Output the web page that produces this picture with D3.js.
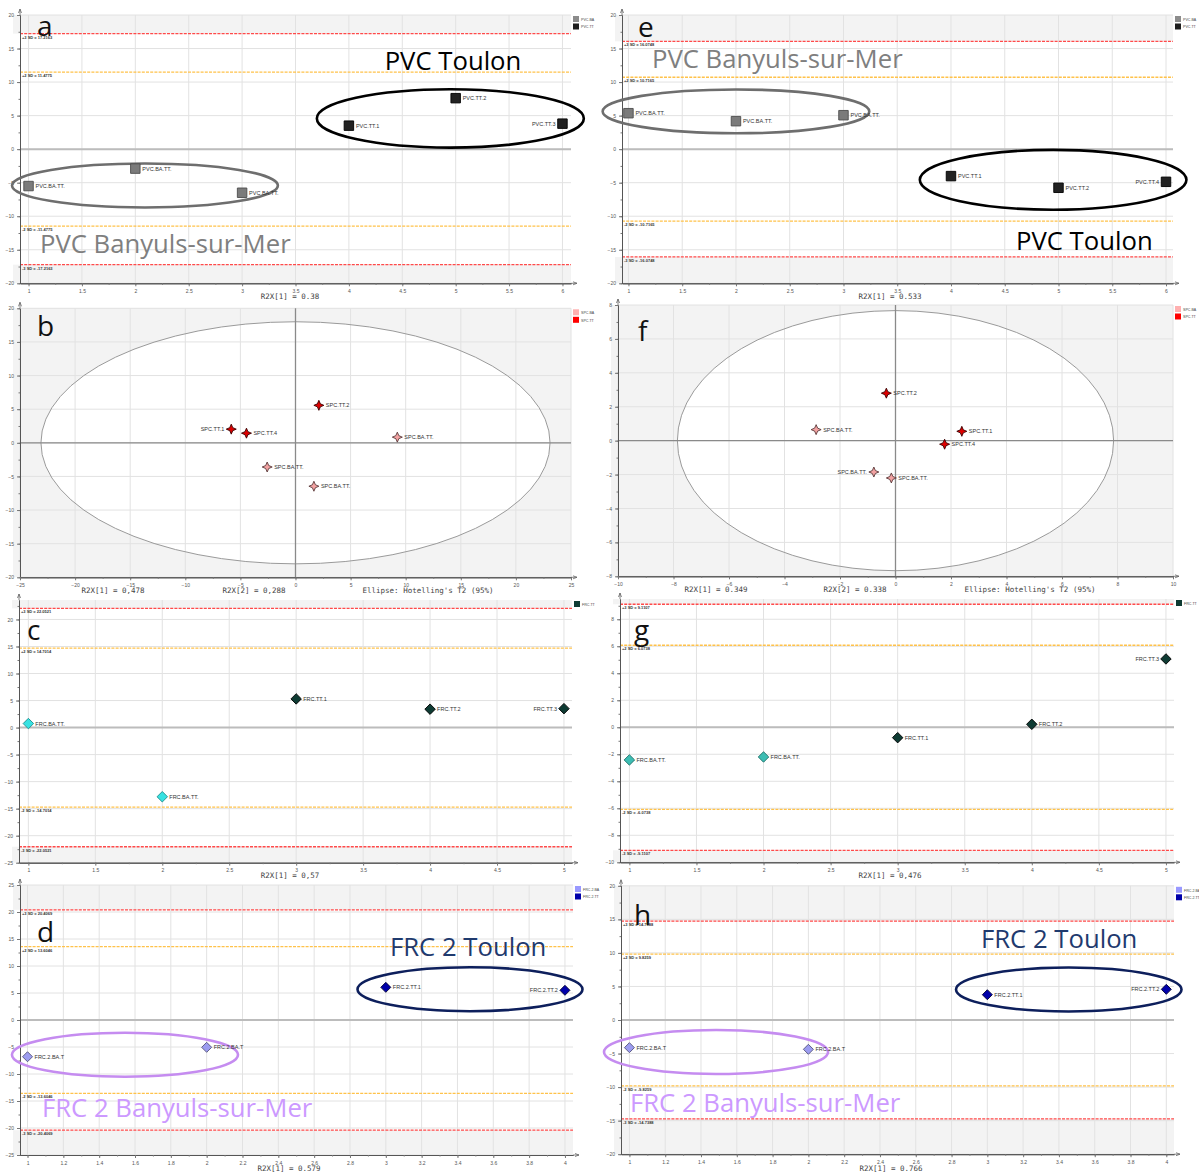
<!DOCTYPE html>
<html><head><meta charset="utf-8">
<script src="https://cdn.jsdelivr.net/npm/d3@7"></script>
<style>body{margin:0;background:#fff} svg{display:block}</style>
</head><body>
<svg id="fig" width="1199" height="1173"></svg>
<script>
// ================= DATA =================
// a — PVC, t[1] score per observation
const aObs = [1, 2, 3, 4, 5, 6];
const aT1 = [-5.5, -2.9, -6.5, 3.5, 7.6, 3.8];
const aNames = ["PVC.BA.TT.", "PVC.BA.TT.", "PVC.BA.TT.", "PVC.TT.1", "PVC.TT.2", "PVC.TT.3"];
const aClass = ["BA", "BA", "BA", "TT", "TT", "TT"];
const aLimits = [17.2163, 11.4775];            // 3 SD, 2 SD
const aEllipses = [[4.95, 4.58, 1.25, 4.35], [2.09, -5.42, 1.245, 3.27]]; // cx, cy, rx, ry (data units)
const aLegend = ["PVC.BA", "PVC.TT"];
const aNotes = ["PVC Toulon", "PVC Banyuls-sur-Mer"];
const aAxisText = ["R2X[1] = 0.38"];

// e — PVC, t[1]
const eObs = [1, 2, 3, 4, 5, 6];
const eT1 = [5.36, 4.17, 5.06, -4.02, -5.76, -4.87];
const eNames = ["PVC.BA.TT.", "PVC.BA.TT.", "PVC.BA.TT.", "PVC.TT.1", "PVC.TT.2", "PVC.TT.4"];
const eClass = ["BA", "BA", "BA", "TT", "TT", "TT"];
const eLimits = [16.0748, 10.7165];
const eEllipses = [[2.0, 5.63, 1.24, 3.27], [4.95, -4.57, 1.24, 4.46]];
const eLegend = ["PVC.BA", "PVC.TT"];
const eNotes = ["PVC Banyuls-sur-Mer", "PVC Toulon"];
const eAxisText = ["R2X[1] = 0.533"];

// b — SPC, t[1] vs t[2]
const bT1 = [-5.83, -4.45, 2.12, 9.24, -2.57, 1.67];
const bT2 = [2.03, 1.43, 5.57, 0.84, -3.6, -6.46];
const bNames = ["SPC.TT.1", "SPC.TT.4", "SPC.TT.2", "SPC.BA.TT.", "SPC.BA.TT.", "SPC.BA.TT."];
const bClass = ["TT", "TT", "TT", "BA", "BA", "BA"];
const bHotelling = [23.1, 18.0];
const bLegend = ["SPC.BA", "SPC.TT"];
const bAxisText = ["R2X[1] = 0,478", "R2X[2] = 0,288", "Ellipse: Hotelling's T2 (95%)"];

// f — SPC, t[1] vs t[2]
const fT1 = [-0.33, -2.86, 2.39, 1.77, -0.78, -0.15];
const fT2 = [2.8, 0.65, 0.55, -0.21, -1.85, -2.2];
const fNames = ["SPC.TT.2", "SPC.BA.TT.", "SPC.TT.1", "SPC.TT.4", "SPC.BA.TT.", "SPC.BA.TT."];
const fClass = ["TT", "BA", "TT", "TT", "BA", "BA"];
const fHotelling = [7.86, 7.67];
const fLegend = ["SPC.BA", "SPC.TT"];
const fAxisText = ["R2X[1] = 0.349", "R2X[2] = 0.338", "Ellipse: Hotelling's T2 (95%)"];

// c — FRC, t[1]
const cObs = [1, 2, 3, 4, 5];
const cT1 = [0.74, -12.8, 5.3, 3.4, 3.5];
const cNames = ["FRC.BA.TT.", "FRC.BA.TT.", "FRC.TT.1", "FRC.TT.2", "FRC.TT.3"];
const cClass = ["BA", "BA", "TT", "TT", "TT"];
const cLimits = [22.0521, 14.7014];
const cLegend = ["FRC.TT"];
const cAxisText = ["R2X[1] = 0,57"];

// g — FRC, t[1]
const gObs = [1, 2, 3, 4, 5];
const gT1 = [-2.42, -2.2, -0.77, 0.22, 5.06];
const gNames = ["FRC.BA.TT.", "FRC.BA.TT.", "FRC.TT.1", "FRC.TT.2", "FRC.TT.3"];
const gClass = ["BA", "BA", "TT", "TT", "TT"];
const gLimits = [9.1107, 6.0738];
const gLegend = ["FRC.TT"];
const gAxisText = ["R2X[1] = 0,476"];

// d — FRC 2, t[1]
const dObs = [1, 2, 3, 4];
const dT1 = [-6.8, -5.06, 6.05, 5.5];
const dNames = ["FRC.2.BA.T", "FRC.2.BA.T", "FRC.2.TT.1", "FRC.2.TT.2"];
const dClass = ["BA", "BA", "TT", "TT"];
const dLimits = [20.4069, 13.6046];
const dEllipses = [[3.47, 5.69, 0.628, 4.07], [1.544, -6.43, 0.631, 4.07]];
const dLegend = ["FRC.2.BA", "FRC.2.TT"];
const dNotes = ["FRC 2 Toulon", "FRC 2 Banyuls-sur-Mer"];
const dAxisText = ["R2X[1] = 0.579"];

// h — FRC 2, t[1]
const hObs = [1, 2, 3, 4];
const hT1 = [-4.12, -4.37, 3.77, 4.57];
const hNames = ["FRC.2.BA.T", "FRC.2.BA.T", "FRC.2.TT.1", "FRC.2.TT.2"];
const hClass = ["BA", "BA", "TT", "TT"];
const hLimits = [14.7388, 9.8259];
const hEllipses = [[3.455, 4.55, 0.63, 3.28], [1.484, -4.77, 0.626, 3.28]];
const hLegend = ["FRC.2.BA", "FRC.2.TT"];
const hNotes = ["FRC 2 Toulon", "FRC 2 Banyuls-sur-Mer"];
const hAxisText = ["R2X[1] = 0.766"];

// ================= SYMBOLS / STYLES =================
const square = {draw(c, s){const r = Math.sqrt(s)/2; c.rect(-r, -r, 2*r, 2*r);}};
const diamond = {draw(c, s){const r = Math.sqrt(s)/2; c.moveTo(0,-r); c.lineTo(r,0); c.lineTo(0,r); c.lineTo(-r,0); c.closePath();}};
const star4 = {draw(c, s){const r = Math.sqrt(s)/2, k = r*0.3;
  c.moveTo(0,-r); c.lineTo(k,-k); c.lineTo(r,0); c.lineTo(k,k); c.lineTo(0,r); c.lineTo(-k,k); c.lineTo(-r,0); c.lineTo(-k,-k); c.closePath();}};

const PVC = {sym: square, size: 90, BA: ["#7b7b7b", "#4d4d4d"], TT: ["#222222", "#000000"], legend: ["#8c8c8c", "#1e1e1e"]};
const SPC = {sym: star4, size: 100, BA: ["#f3a2a2", "#5a3a3a"], TT: ["#dd0000", "#3a0000"], legend: ["#ffb0b0", "#ff0000"]};
const FRC = {sym: diamond, size: 110, BA: ["#37e2e2", "#1f8c8c"], TT: ["#0e3b33", "#000000"], legend: ["#0e3b33"]};
const FRCg = {sym: diamond, size: 110, BA: ["#3dbdb3", "#1d6f68"], TT: ["#0e3b33", "#000000"], legend: ["#0e3b33"]};
const FRC2 = {sym: diamond, size: 100, BA: ["#9c9cf0", "#55557a"], TT: ["#0000aa", "#000033"], legend: ["#9999ff", "#0000aa"]};

const MONO = "'DejaVu Sans Mono', monospace";
const SANS = "'Liberation Sans', Arial, sans-serif";
const BIG = "'Open Sans', sans-serif";

// ================= LAYOUT =================
const panels = [
  {letter: "a", lp: [37, 36], x0: 20, x1: 571, y0: 15, y1: 283.3, xDom: [0.92, 6.08], yDom: [-20, 20], xStep: 0.5, xMinor: 0.25, yStep: 5,
   xs: aObs, ys: aT1, names: aNames, cls: aClass, limits: aLimits, style: PVC, legend: aLegend,
   ell: aEllipses, ellStyle: [["#000000", 2.6], ["#6e6e6e", 2.6]],
   notes: aNotes, noteStyle: [[453, 70, "middle", "#000000"], [40, 253, "start", "#7f7f7f"]],
   axisText: aAxisText, axisPos: [[290, 299]]},
  {letter: "e", lp: [638, 37], x0: 622, x1: 1173, y0: 15, y1: 283.3, xDom: [0.94, 6.065], yDom: [-20, 20], xStep: 0.5, xMinor: 0.25, yStep: 5,
   xs: eObs, ys: eT1, names: eNames, cls: eClass, limits: eLimits, style: PVC, legend: eLegend,
   ell: eEllipses, ellStyle: [["#6e6e6e", 2.6], ["#000000", 2.6]],
   notes: eNotes, noteStyle: [[652, 68, "start", "#7f7f7f"], [1016, 250, "start", "#000000"]],
   axisText: eAxisText, axisPos: [[890, 299]]},
  {letter: "b", lp: [37, 336], x0: 20, x1: 571, y0: 308.3, y1: 577.3, xDom: [-25, 25], yDom: [-20, 20], xStep: 5, xMinor: 2.5, yStep: 5,
   xs: bT1, ys: bT2, names: bNames, cls: bClass, hot: bHotelling, style: SPC, legend: bLegend, leftLabel: [0],
   axisText: bAxisText, axisPos: [[113, 592.5], [254, 592.5], [428, 592.5]]},
  {letter: "f", lp: [638, 341], x0: 618, x1: 1173, y0: 305, y1: 576.3, xDom: [-10, 10], yDom: [-8, 8], xStep: 2, xMinor: 1, yStep: 2,
   xs: fT1, ys: fT2, names: fNames, cls: fClass, hot: fHotelling, style: SPC, legend: fLegend, leftLabel: [4],
   axisText: fAxisText, axisPos: [[716, 592], [855, 592], [1030, 592]]},
  {letter: "c", lp: [27, 640], x0: 19, x1: 572, y0: 600, y1: 862.7, xDom: [0.93, 5.06], yDom: [-25, 23.6], xStep: 0.5, xMinor: 0.25, yStep: 5,
   xs: cObs, ys: cT1, names: cNames, cls: cClass, limits: cLimits, style: FRC, legend: cLegend,
   axisText: cAxisText, axisPos: [[290, 878]]},
  {letter: "g", lp: [634, 640], x0: 620, x1: 1174, y0: 599, y1: 862.3, xDom: [0.93, 5.06], yDom: [-10, 9.5], xStep: 0.5, xMinor: 0.25, yStep: 2,
   xs: gObs, ys: gT1, names: gNames, cls: gClass, limits: gLimits, style: FRCg, legend: gLegend,
   axisText: gAxisText, axisPos: [[890, 878]]},
  {letter: "d", lp: [37, 942], x0: 20, x1: 573, y0: 885, y1: 1155, xDom: [0.958, 4.045], yDom: [-25, 25], xStep: 0.2, xMinor: 0.1, yStep: 5,
   xs: dObs, ys: dT1, names: dNames, cls: dClass, limits: dLimits, style: FRC2, legend: dLegend,
   ell: dEllipses, ellStyle: [["#0d1f5c", 2.6], ["#c58cf0", 2.6]],
   notes: dNotes, noteStyle: [[390, 956, "start", "#1f3a6e"], [42, 1117, "start", "#cc99ff"]],
   axisText: dAxisText, axisPos: [[289, 1171]]},
  {letter: "h", lp: [634, 925], x0: 621, x1: 1174, y0: 885.8, y1: 1154.2, xDom: [0.953, 4.043], yDom: [-20, 20], xStep: 0.2, xMinor: 0.1, yStep: 5,
   xs: hObs, ys: hT1, names: hNames, cls: hClass, limits: hLimits, style: FRC2, legend: hLegend,
   ell: hEllipses, ellStyle: [["#0d1f5c", 2.6], ["#c58cf0", 2.6]],
   notes: hNotes, noteStyle: [[981, 948, "start", "#1f3a6e"], [630, 1112, "start", "#cc99ff"]],
   axisText: hAxisText, axisPos: [[891, 1171]]}
];

// ================= DRAW =================
const svg = d3.select("#fig");

function tickVals(dom, step) {
  const out = [];
  const start = Math.ceil(dom[0] / step - 1e-9);
  for (let i = start; i * step <= dom[1] + 1e-9; i++) out.push(+(i * step).toFixed(6));
  return out;
}

function styleAxis(sel) {
  sel.select(".domain").attr("stroke", "#555").attr("stroke-width", 1);
  sel.selectAll(".tick line").attr("stroke", "#777");
  sel.selectAll(".tick text").attr("fill", "#555").attr("font-size", 5).attr("font-family", SANS);
}

function drawPanel(P) {
  const g = svg.append("g");
  const x = d3.scaleLinear().domain(P.xDom).range([P.x0, P.x1]);
  const y = d3.scaleLinear().domain(P.yDom).range([P.y1, P.y0]);
  const W = P.x1 - P.x0, H = P.y1 - P.y0;

  // background
  g.append("rect").attr("x", P.x0 - 7).attr("y", P.y0).attr("width", W + 7).attr("height", H).attr("fill", "#f3f3f3");
  if (P.limits) {
    g.append("rect").attr("x", P.x0 - 7).attr("width", W + 7)
      .attr("y", y(P.limits[0])).attr("height", y(-P.limits[0]) - y(P.limits[0])).attr("fill", "#ffffff");
  } else {
    g.append("ellipse").attr("cx", x(0)).attr("cy", y(0))
      .attr("rx", x(P.hot[0]) - x(0)).attr("ry", y(0) - y(P.hot[1])).attr("fill", "#ffffff");
  }

  const xt = tickVals(P.xDom, P.xStep), yt = tickVals(P.yDom, P.yStep);
  const xm = tickVals(P.xDom, P.xMinor), ym = tickVals(P.yDom, P.yStep / 2);

  // grid
  g.append("g").selectAll("line").data(xt).join("line")
    .attr("x1", d => x(d)).attr("x2", d => x(d)).attr("y1", P.y0).attr("y2", P.y1)
    .attr("stroke", "#e2e2e2").attr("stroke-width", 1);
  g.append("g").selectAll("line").data(yt).join("line")
    .attr("x1", P.x0).attr("x2", P.x1).attr("y1", d => y(d)).attr("y2", d => y(d))
    .attr("stroke", "#e2e2e2").attr("stroke-width", 1);

  if (P.hot) {
    g.append("ellipse").attr("cx", x(0)).attr("cy", y(0))
      .attr("rx", x(P.hot[0]) - x(0)).attr("ry", y(0) - y(P.hot[1]))
      .attr("fill", "none").attr("stroke", "#9a9a9a").attr("stroke-width", 1);
    g.append("line").attr("x1", P.x0).attr("x2", P.x1).attr("y1", y(0)).attr("y2", y(0)).attr("stroke", "#8a8a8a").attr("stroke-width", 1.3);
    g.append("line").attr("x1", x(0)).attr("x2", x(0)).attr("y1", P.y0).attr("y2", P.y1).attr("stroke", "#8a8a8a").attr("stroke-width", 1.3);
  } else {
    g.append("line").attr("x1", P.x0).attr("x2", P.x1).attr("y1", y(0)).attr("y2", y(0)).attr("stroke", "#bcbcbc").attr("stroke-width", 2);
  }

  // SD limit lines
  if (P.limits) {
    const lims = [
      {v: P.limits[0], c: "#ff4a4a", t: "+3 SD = " + P.limits[0]},
      {v: P.limits[1], c: "#ffc24a", t: "+2 SD = " + P.limits[1]},
      {v: -P.limits[1], c: "#ffc24a", t: "-2 SD = -" + P.limits[1]},
      {v: -P.limits[0], c: "#ff4a4a", t: "-3 SD = -" + P.limits[0]}
    ];
    const lg = g.append("g");
    lg.selectAll("line").data(lims).join("line")
      .attr("x1", P.x0).attr("x2", P.x1).attr("y1", d => y(d.v)).attr("y2", d => y(d.v))
      .attr("stroke", d => d.c).attr("stroke-width", 1.3).attr("stroke-dasharray", "3,1.2");
    lg.selectAll("text").data(lims).join("text")
      .attr("x", P.x0 + 2).attr("y", d => y(d.v) + 5)
      .attr("font-size", 4).attr("font-family", SANS).attr("font-weight", "bold").attr("fill", "#333").text(d => d.t);
  }

  // axes
  g.append("g").attr("transform", `translate(${P.x0},0)`)
    .call(d3.axisLeft(y).tickValues(yt).tickSize(3).tickSizeOuter(0).tickPadding(3).tickFormat(d3.format("~g"))).call(styleAxis);
  g.append("g").attr("transform", `translate(${P.x0},0)`)
    .call(d3.axisLeft(y).tickValues(ym).tickSize(1.5).tickSizeOuter(0).tickFormat("")).call(styleAxis);
  g.append("g").attr("transform", `translate(0,${P.y1})`)
    .call(d3.axisBottom(x).tickValues(xt).tickSize(3).tickSizeOuter(0).tickPadding(3).tickFormat(d3.format("~g"))).call(styleAxis);
  g.append("g").attr("transform", `translate(0,${P.y1})`)
    .call(d3.axisBottom(x).tickValues(xm).tickSize(1.5).tickSizeOuter(0).tickFormat("")).call(styleAxis);
  // arrow heads
  g.append("path").attr("d", `M${P.x1 + 6},${P.y1} l-4,-1.5 M${P.x1 + 6},${P.y1} l-4,1.5 M${P.x1},${P.y1} h6`).attr("stroke", "#666").attr("fill", "none").attr("stroke-width", 0.8);
  g.append("path").attr("d", `M${P.x0},${P.y0 - 6} l-1.5,4 M${P.x0},${P.y0 - 6} l1.5,4 M${P.x0},${P.y0} v-6`).attr("stroke", "#666").attr("fill", "none").attr("stroke-width", 0.8);

  // group ellipses (annotations)
  if (P.ell) {
    g.append("g").selectAll("ellipse").data(P.ell).join("ellipse")
      .attr("cx", d => x(d[0])).attr("cy", d => y(d[1]))
      .attr("rx", d => x(d[0] + d[2]) - x(d[0])).attr("ry", d => y(d[1] - d[3]) - y(d[1]))
      .attr("fill", "none").attr("stroke", (d, i) => P.ellStyle[i][0]).attr("stroke-width", (d, i) => P.ellStyle[i][1]);
  }

  // points
  const pts = P.xs.map((v, i) => ({x: v, y: P.ys[i], name: P.names[i], cls: P.cls[i], i}));
  const maxX = d3.max(P.xs);
  const sym = d3.symbol().type(P.style.sym).size(P.style.size);
  g.append("g").selectAll("path").data(pts).join("path")
    .attr("d", sym).attr("transform", d => `translate(${x(d.x)},${y(d.y)})`)
    .attr("fill", d => P.style[d.cls][0]).attr("stroke", d => P.style[d.cls][1]).attr("stroke-width", 0.9);
  const isLeft = d => P.leftLabel ? P.leftLabel.includes(d.i) : (d.x === maxX);
  g.append("g").selectAll("text").data(pts).join("text")
    .attr("x", d => x(d.x) + (isLeft(d) ? -7 : 7)).attr("y", d => y(d.y) + 2)
    .attr("text-anchor", d => isLeft(d) ? "end" : "start")
    .attr("font-size", 5.5).attr("font-family", SANS).attr("fill", "#333").text(d => d.name);

  // legend
  const lgd = g.append("g").selectAll("g").data(P.legend).join("g")
    .attr("transform", (d, i) => `translate(${P.x1 + 2},${P.y0 + 1 + i * 7.5})`);
  lgd.append("rect").attr("width", 6).attr("height", 6).attr("fill", (d, i) => P.style.legend[i]);
  lgd.append("text").attr("x", 8).attr("y", 4.8).attr("font-size", 3.6).attr("font-family", SANS).attr("fill", "#444").text(d => d);

  // notes
  if (P.notes) {
    g.append("g").selectAll("text").data(P.notes).join("text")
      .attr("x", (d, i) => P.noteStyle[i][0]).attr("y", (d, i) => P.noteStyle[i][1])
      .attr("text-anchor", (d, i) => P.noteStyle[i][2]).attr("fill", (d, i) => P.noteStyle[i][3])
      .attr("font-size", 25.7).attr("font-family", BIG).text(d => d);
  }

  // axis texts
  g.append("g").selectAll("text").data(P.axisText).join("text")
    .attr("x", (d, i) => P.axisPos[i][0]).attr("y", (d, i) => P.axisPos[i][1])
    .attr("text-anchor", "middle").attr("font-size", 7.5).attr("font-family", MONO).attr("fill", "#444").text(d => d);

  // panel letter
  g.append("text").attr("x", P.lp[0]).attr("y", P.lp[1]).attr("font-size", 28).attr("font-family", BIG).attr("fill", "#111").text(P.letter);
}

panels.forEach(drawPanel);
</script>
</body></html>
